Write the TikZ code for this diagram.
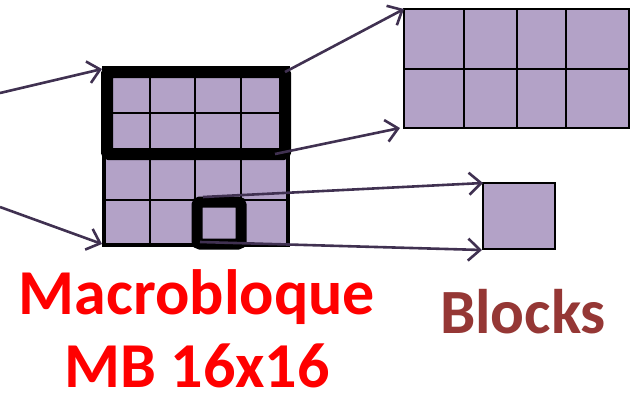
\documentclass[tikz,border=0pt]{standalone}
\usepackage{fontspec}
\setmainfont{Carlito}
\usetikzlibrary{arrows.meta}
\definecolor{cellfill}{HTML}{B3A2C7}
\definecolor{arrowcol}{HTML}{403151}
\definecolor{blockred}{HTML}{953735}
\definecolor{mbred}{HTML}{FF0000}
\tikzset{
  cellbox/.style={draw=black, fill=cellfill, line width=2.5pt, inner sep=0pt, outer sep=0pt},
  gridline/.style={draw=black, line width=1.6pt},
  thickframe/.style={draw=black, line width=12pt, rounded corners=2pt},
  conn/.style={draw=arrowcol, line width=2.6pt, -{Straight Barb[length=12pt,width=22pt,line width=2.6pt]}},
  bigtxt/.style={font=\bfseries\fontsize{64}{64}\selectfont, text=mbred, anchor=base, inner sep=0pt},
  blktxt/.style={font=\bfseries\fontsize{63}{63}\selectfont, text=blockred, anchor=base, inner sep=0pt}
}
\begin{document}
\begin{tikzpicture}[x=1pt,y=-1pt]
\useasboundingbox (0,0) rectangle (636,394);
% macroblock
\node[cellbox, line width=4pt, minimum width=184pt, minimum height=177pt, anchor=north west] (mb) at (104,68) {};
\foreach \x in {150,195,241} \draw[gridline] (\x,68) -- (\x,245);
\foreach \y in {113,157,200} \draw[gridline] (104,\y) -- (288,\y);
\draw[thickframe] (107,72) rectangle (285,154);
\draw[thickframe, line width=11pt, rounded corners=3pt] (197,202) rectangle (241,244);
% right blocks
\node[cellbox, minimum width=225pt, minimum height=119pt, anchor=north west] (blk8) at (404,9) {};
\foreach \x in {464,517,566} \draw[gridline, line width=2.2pt] (\x,9) -- (\x,128);
\draw[gridline, line width=2.2pt] (404,69) -- (629,69);
\node[cellbox, minimum width=72pt, minimum height=66pt, anchor=north west] (blk1) at (483,183) {};
% arrow sources
\coordinate (s1) at (0,93);
\coordinate (s2) at (0,207);
\coordinate (s3) at (285,72);
\coordinate (s4) at (275,154);
\coordinate (s5) at (203,197);
\coordinate (s6) at (200,242);
\coordinate (t1) at (102,69);
\coordinate (t2) at (102,244);
\draw[conn] (s1) -- (t1);
\draw[conn] (s2) -- (t2);
\draw[conn] (s3) -- (blk8.north west);
\draw[conn] (s4) -- ([xshift=-4pt]blk8.south west);
\draw[conn] (s5) -- (blk1.north west);
\draw[conn] (s6) -- ([xshift=-1pt,yshift=-1pt]blk1.south west);
% labels
\node[bigtxt] (lab1) at (197,314) {Macrobloque};
\node[bigtxt, text depth=0pt] (lab2) at (197,387) {MB 16x16};
\node[blktxt] (lab3) at (523,333) {Blocks};
\end{tikzpicture}
\end{document}
